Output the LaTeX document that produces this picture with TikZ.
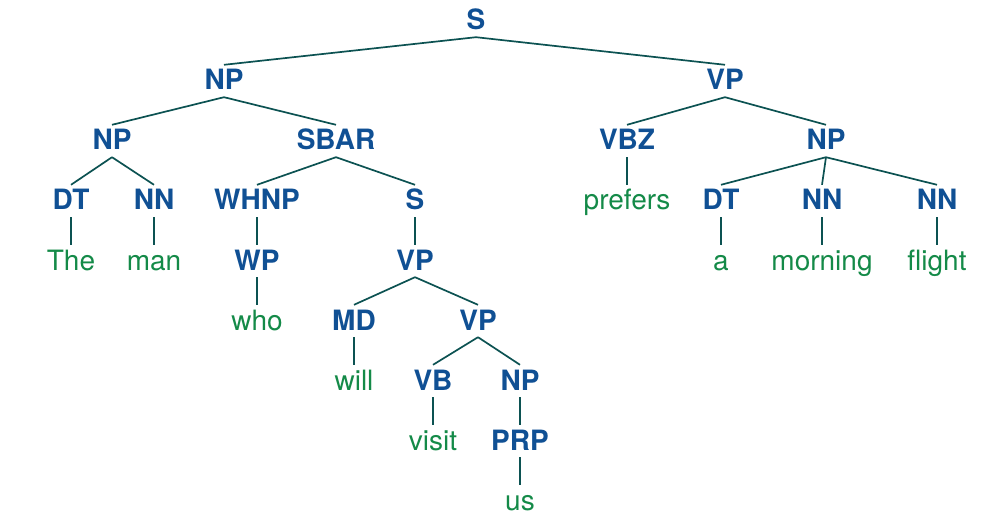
\documentclass[tikz,border=0pt]{standalone}
\usepackage{fontspec}
\setmainfont{TeX Gyre Heros}
\definecolor{tagblue}{RGB}{16,80,148}
\definecolor{wordgreen}{RGB}{20,138,72}
\definecolor{edgeteal}{RGB}{12,82,82}
\begin{document}
\begin{tikzpicture}[x=1pt,y=-1pt,
  lbl/.style={anchor=base, inner xsep=0pt, inner ysep=4pt, text height=21pt, text depth=3pt, font=\fontsize{28}{30}\selectfont},
  tag/.style={lbl, text=tagblue, font=\fontsize{28}{30}\selectfont\bfseries},
  word/.style={lbl, text=wordgreen},
  edge/.style={draw=edgeteal, line width=1.7pt}]
\useasboundingbox (0,0) rectangle (994,524);
% nodes
\node[tag] (S) at (476,30) {S};
\node[tag] (NPa) at (224,90) {NP};
\node[tag] (VPa) at (725,90) {VP};
\node[tag] (NPb) at (112,150) {NP};
\node[tag] (SBAR) at (336,150) {SBAR};
\node[tag] (VBZ) at (627,150) {VBZ};
\node[tag] (NPc) at (826,150) {NP};
\node[tag] (DTa) at (71,210) {DT};
\node[tag] (NNa) at (154,210) {NN};
\node[tag] (WHNP) at (257,210) {WHNP};
\node[tag] (Sb) at (415,210) {S};
\node[word] (prefers) at (627,210) {prefers};
\node[tag] (DTb) at (721,210) {DT};
\node[tag] (NNb) at (822,210) {NN};
\node[tag] (NNc) at (937,210) {NN};
\node[word] (The) at (71,270) {The};
\node[word] (man) at (154,270) {man};
\node[tag] (WP) at (257,270) {WP};
\node[tag] (VPb) at (415,270) {VP};
\node[word] (a) at (721,270) {a};
\node[word] (morning) at (822,270) {morning};
\node[word] (flight) at (937,270) {flight};
\node[word] (who) at (257,330) {who};
\node[tag] (MD) at (354,330) {MD};
\node[tag] (VPc) at (478,330) {VP};
\node[word] (will) at (354,390) {will};
\node[tag] (VB) at (433,390) {VB};
\node[tag] (NPd) at (520,390) {NP};
\node[word] (visit) at (433,450) {visit};
\node[tag] (PRP) at (520,450) {PRP};
\node[word] (us) at (520,510) {us};
% edges
\foreach \p/\c in {S/NPa, S/VPa, NPa/NPb, NPa/SBAR, VPa/VBZ, VPa/NPc,
  NPb/DTa, NPb/NNa, SBAR/WHNP, SBAR/Sb, VBZ/prefers, NPc/DTb, NPc/NNb, NPc/NNc,
  DTa/The, NNa/man, WHNP/WP, Sb/VPb, DTb/a, NNb/morning, NNc/flight,
  WP/who, VPb/MD, VPb/VPc, MD/will, VPc/VB, VPc/NPd, VB/visit, NPd/PRP, PRP/us}
  \draw[edge] (\p.south) -- (\c.north);
\end{tikzpicture}
\end{document}
